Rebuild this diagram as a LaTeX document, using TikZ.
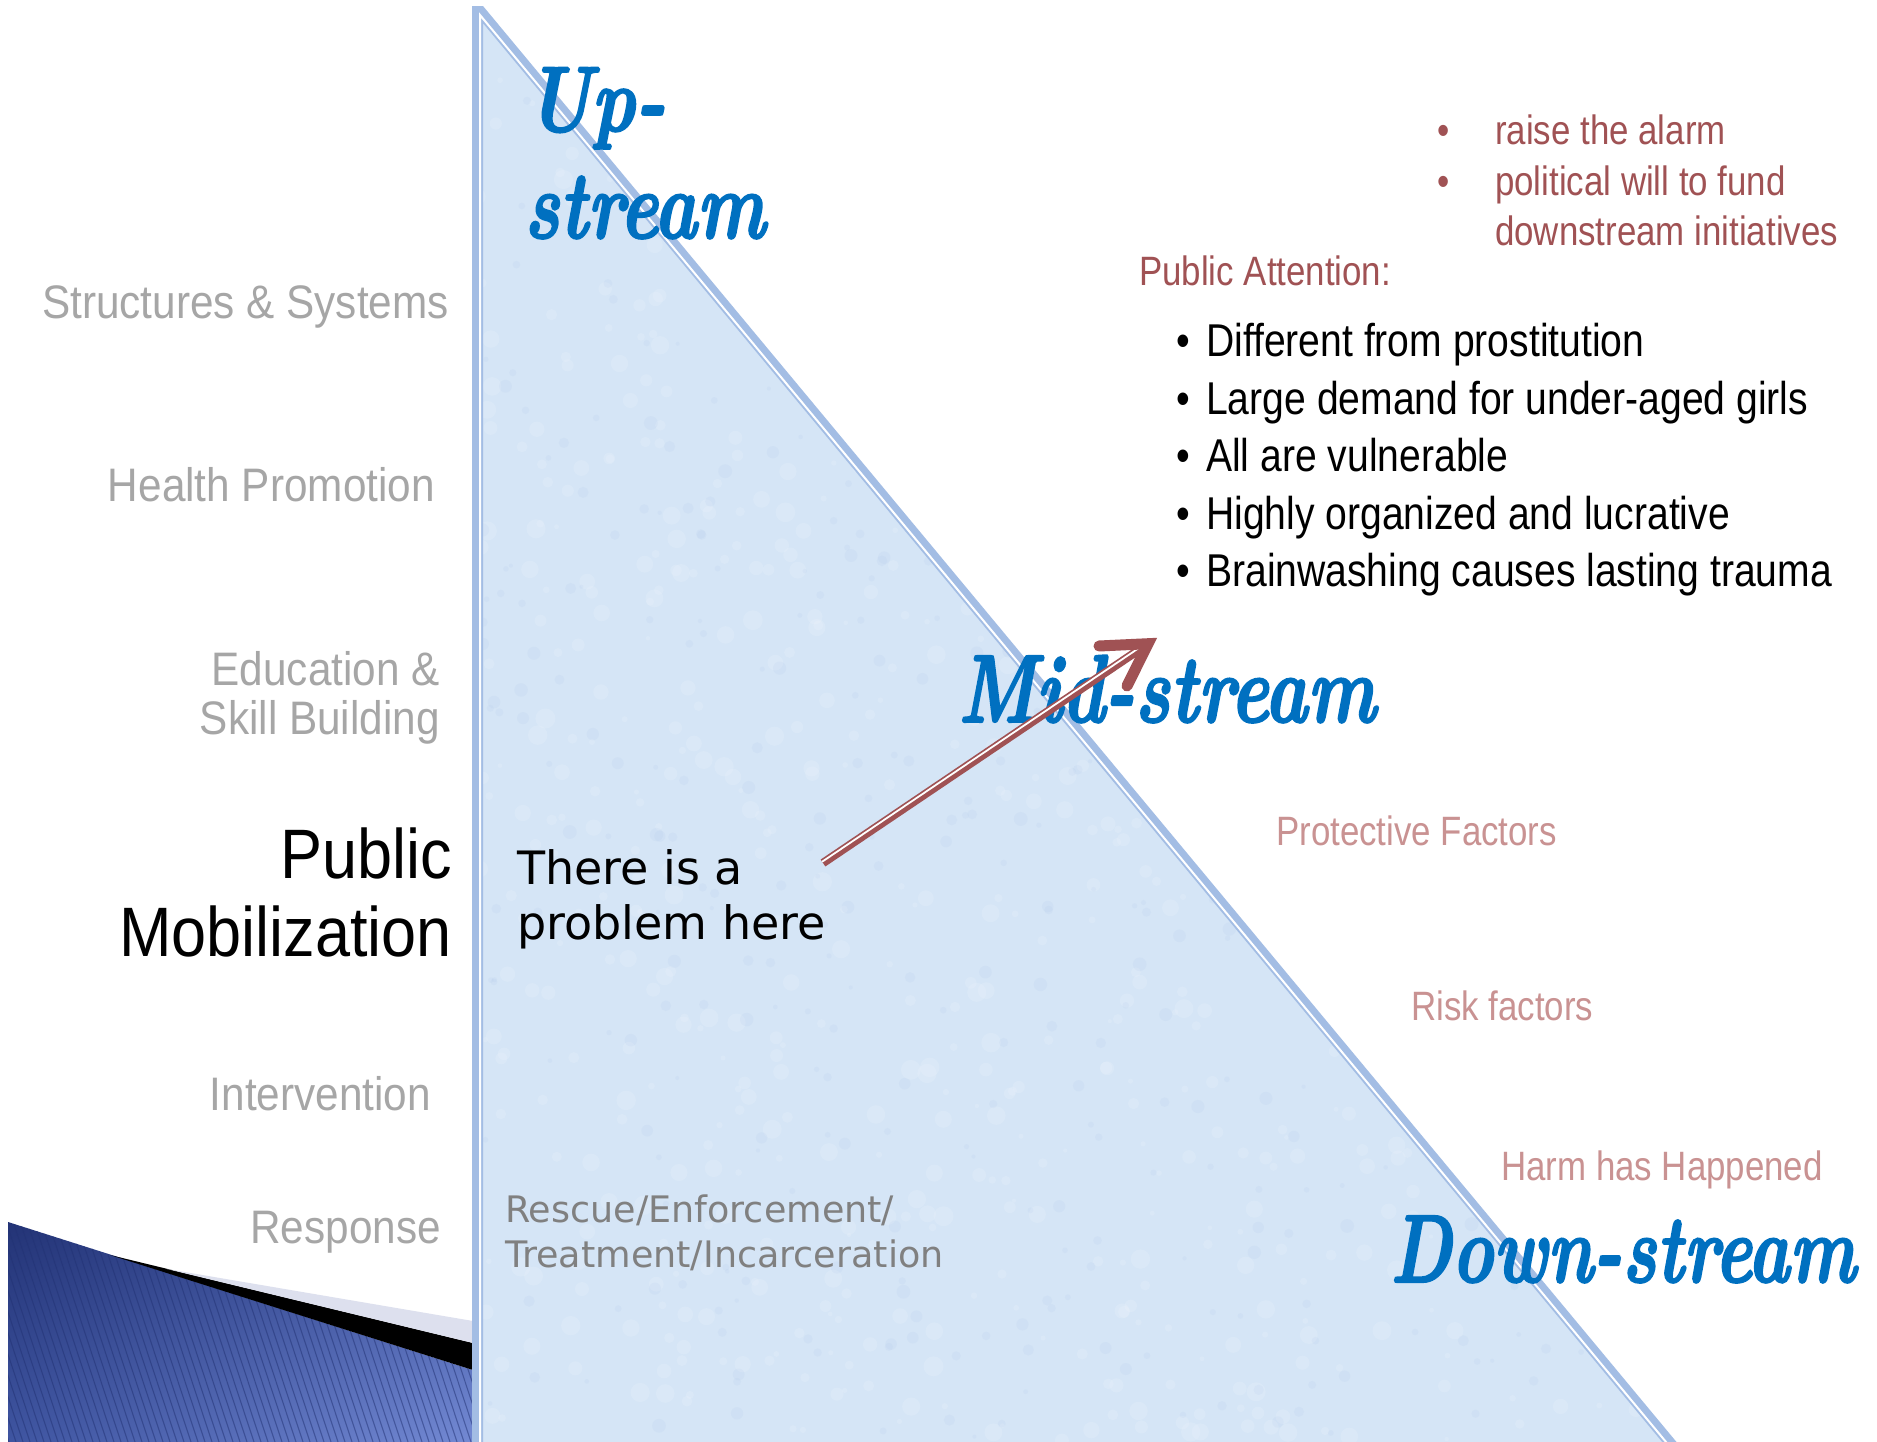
\documentclass[tikz,border=0pt]{standalone}
\usepackage{fontspec}
\usepackage{graphicx}
\usetikzlibrary{calc,shadings}
\newfontfamily\lsans[FakeStretch=0.9]{Liberation Sans}
\newfontfamily\nsans[FakeStretch=0.85]{Liberation Sans}
\newfontfamily\dsans{DejaVu Sans}
\newfontfamily\strm[FakeBold=2.2]{lmroman10-bolditalic.otf}
\definecolor{trifill}{RGB}{213,229,246}
\definecolor{tribord}{RGB}{163,189,228}
\definecolor{streamblue}{RGB}{0,112,192}
\definecolor{redbrown}{RGB}{160,82,84}
\definecolor{pinkish}{RGB}{201,146,146}
\definecolor{lgray}{RGB}{166,166,166}
\definecolor{dgray}{RGB}{128,128,128}
\definecolor{navyA}{RGB}{34,50,116}
\definecolor{navyB}{RGB}{62,84,160}
\definecolor{navyC}{RGB}{116,138,212}
\definecolor{bandgray}{RGB}{221,224,238}
\begin{document}
\begin{tikzpicture}[x=1pt,y=-1pt,
  lvl/.style={inner sep=0pt, anchor=base east, text=lgray, font={\lsans\fontsize{47}{56}\selectfont}},
  pm/.style={inner sep=0pt, anchor=base east, text=black, font={\lsans\fontsize{70}{80}\selectfont}},
  streamtxt/.style={inner sep=0pt, anchor=base west, text=streamblue, font={\strm\fontsize{74}{80}\selectfont}},
  redtxt/.style={inner sep=0pt, anchor=base west, text=redbrown, font={\nsans\fontsize{41}{48}\selectfont}},
  pinktxt/.style={inner sep=0pt, anchor=base west, text=pinkish, font={\nsans\fontsize{41}{48}\selectfont}},
  blktxt/.style={inner sep=0pt, anchor=base west, text=black, font={\nsans\fontsize{46}{54}\selectfont}},
  probtxt/.style={inner sep=0pt, anchor=base west, text=black, font={\dsans\fontsize{46}{54}\selectfont}},
  resptxt/.style={inner sep=0pt, anchor=base west, text=dgray, font={\dsans\fontsize{36.5}{44}\selectfont}},
]
\useasboundingbox (0,0) rectangle (1877,1442);
\fill[white] (0,0) rectangle (1877,1442);

% bottom-left decoration
\begin{scope}
  \clip (8,1222) -- (473,1370) -- (473,1442) -- (8,1442) -- cycle;
  \shade[upper left=navyA, upper right=navyB, lower left=navyB, lower right=navyC] (0,1215) rectangle (480,1442);
  \foreach \x in {-120,-113,...,480} {
    \draw[navyA, opacity=0.5, line width=1.1pt] (\x,1200) -- (\x+80,1442);
  }
\end{scope}
\fill[black] (110,1255) -- (473,1343) -- (473,1370) -- cycle;
\fill[bandgray] (167,1269) -- (473,1321) -- (473,1343) -- cycle;

% triangle
\fill[trifill] (477,10) -- (1675,1442) -- (477,1442) -- cycle;
\begin{scope}
  \clip (477,10) -- (1675,1442) -- (477,1442) -- cycle;
  \pgfmathsetseed{7}
  \foreach \i in {1,...,900} {
    \pgfmathsetmacro{\px}{477+rnd*1200}
    \pgfmathsetmacro{\py}{10+rnd*1432}
    \pgfmathsetmacro{\pr}{2+rnd*8}
    \fill[white, opacity=0.13] (\px,\py) circle[radius=\pr];
  }
  \foreach \i in {1,...,500} {
    \pgfmathsetmacro{\px}{477+rnd*1200}
    \pgfmathsetmacro{\py}{10+rnd*1432}
    \pgfmathsetmacro{\pr}{2+rnd*5}
    \fill[tribord, opacity=0.1] (\px,\py) circle[radius=\pr];
  }
\end{scope}
\begin{scope}
  \clip (0,7) rectangle (1877,1442);
  \draw[tribord, line width=11pt, line join=miter] (477.5,1450) -- (477.5,8) -- (1676,1450);
  \draw[white, line width=2pt] (480,1450) -- (480,15) -- (1672.7,1450);
\end{scope}

% left level labels
\node[lvl] (ss) at (449,318) {Structures \& Systems};
\node[lvl] (hp) at (435,501) {Health Promotion};
\node[lvl] (ed) at (440,685) {Education \&};
\node[lvl] (sb) at (440,734) {Skill Building};
\node[pm] (pub) at (452,878) {Public};
\node[pm] (mob) at (452,956) {Mobilization};
\node[lvl] (iv) at (431,1110) {Intervention};
\node[lvl] (rs) at (441,1243) {Response};

% texts inside triangle
\node[probtxt] (prob1) at (517,884) {There is a};
\node[probtxt] (prob2) at (517,939) {problem here};
\node[resptxt] (resc1) at (505,1222) {Rescue/Enforcement/};
\node[resptxt] (resc2) at (505,1267) {Treatment/Incarceration};

% right side texts
\node[redtxt] (r1) at (1437,145) {\makebox[58pt][l]{•}raise the alarm};
\node[redtxt] (r2) at (1437,195.5) {\makebox[58pt][l]{•}political will to fund};
\node[redtxt] (r3) at (1495,246) {downstream initiatives};
\node[redtxt] (pa) at (1139,285) {Public Attention:};
\node[blktxt] (k1) at (1176,356) {\makebox[30pt][l]{•}Different from prostitution};
\node[blktxt] (k2) at (1176,414) {\makebox[30pt][l]{•}Large demand for under-aged girls};
\node[blktxt] (k3) at (1176,471.5) {\makebox[30pt][l]{•}All are vulnerable};
\node[blktxt] (k4) at (1176,529) {\makebox[30pt][l]{•}Highly organized and lucrative};
\node[blktxt] (k5) at (1176,586.5) {\makebox[30pt][l]{•}Brainwashing causes lasting trauma};
\node[pinktxt] (pf) at (1276,845) {Protective Factors};
\node[pinktxt] (rf) at (1411,1020) {Risk factors};
\node[pinktxt] (hh) at (1501,1180) {Harm has Happened};

% stream labels
\node[streamtxt] (up1) at (526,131) {\scalebox{1}[1.25]{Up-}};
\node[streamtxt] (up2) at (524,238) {\scalebox{0.98}[1.3]{stream}};
\node[streamtxt] (mid) at (958,722) {\scalebox{0.98}[1.3]{Mid-stream}};
\node[streamtxt] (down) at (1390,1282) {\scalebox{0.95}[1.3]{Down-stream}};

% arrow
\coordinate (arrS) at (823,863);
\coordinate (arrT) at (1158,637);
\coordinate (barA) at (1099,646);
\coordinate (barB) at (1127,686);
\coordinate (shE) at ($(arrT)!18pt!(arrS)$);
\draw[redbrown, line width=8.4pt] (arrS) -- (shE);
\draw[white, line width=1.8pt] ($(arrS)+(-0.84,-1.3)$) -- ($(shE)+(-0.84,-1.3)$);
\draw[redbrown, line width=11pt, line cap=round, line join=miter] (barA) -- ($(arrT)!12pt!(arrS)$) -- (barB);
\end{tikzpicture}
\end{document}
